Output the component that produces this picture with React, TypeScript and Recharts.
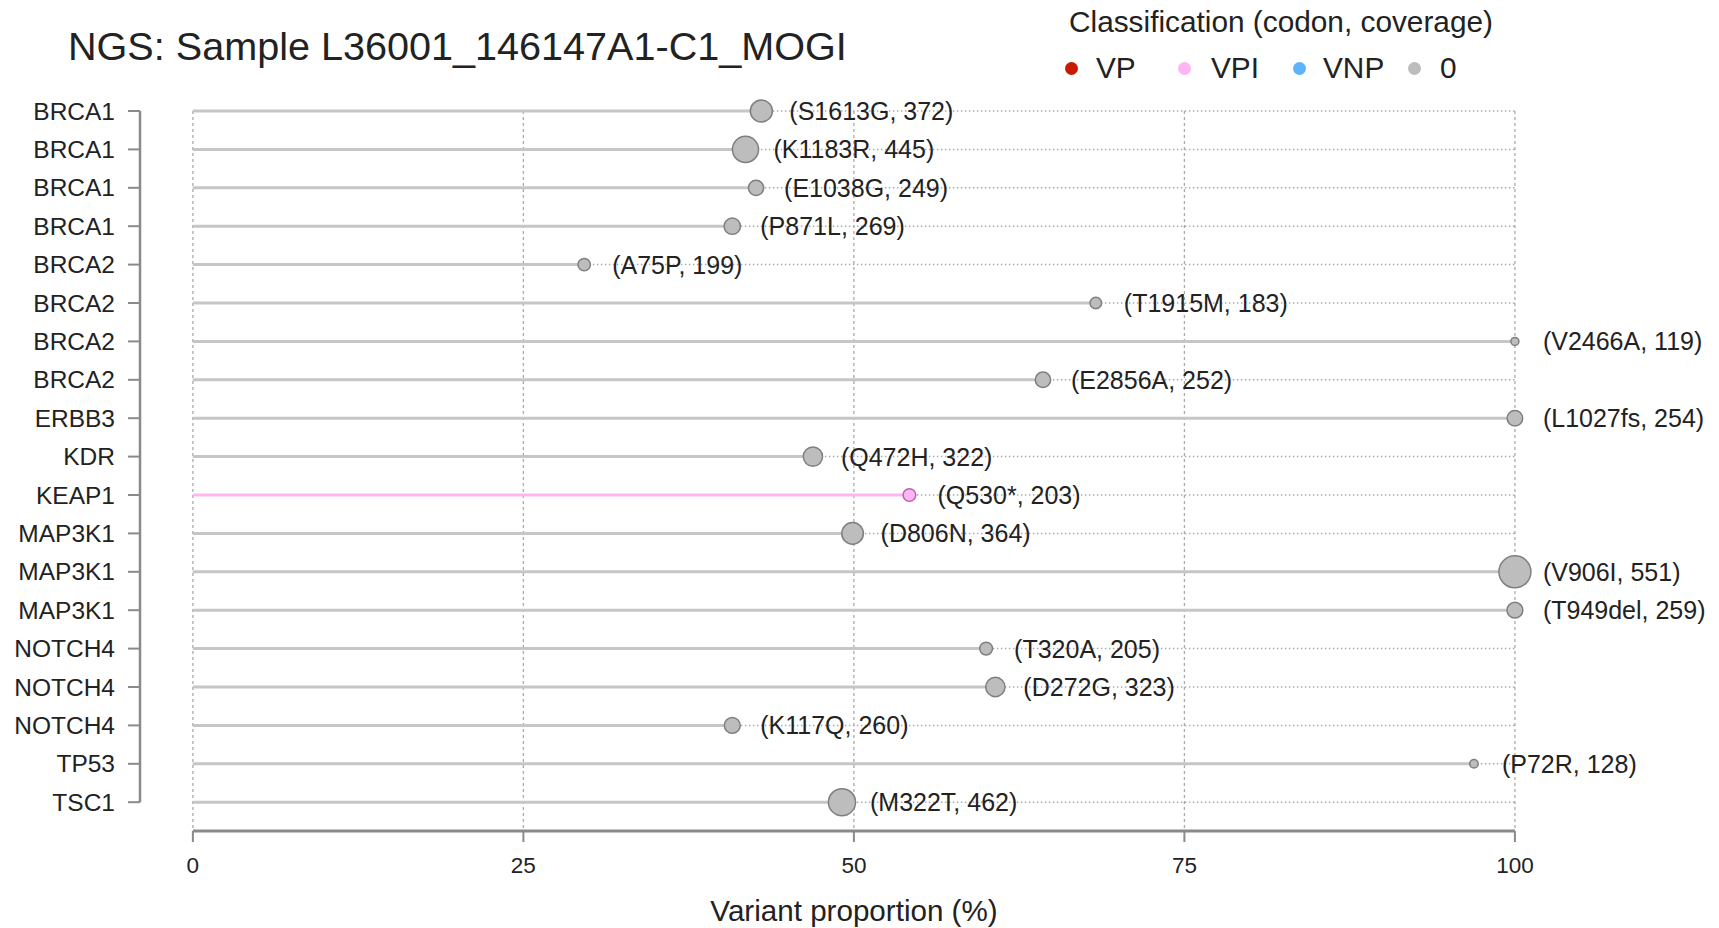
import React from "react";
import { ComposedChart, Scatter, XAxis, YAxis, ReferenceLine, Label } from "recharts";

const genes = [
    "BRCA1", "BRCA1", "BRCA1", "BRCA1", "BRCA2", "BRCA2", "BRCA2", "BRCA2", "ERBB3", "KDR",
    "KEAP1", "MAP3K1", "MAP3K1", "MAP3K1", "NOTCH4", "NOTCH4", "NOTCH4", "TP53", "TSC1"
];
const codons = [
    "S1613G", "K1183R", "E1038G", "P871L", "A75P", "T1915M", "V2466A", "E2856A", "L1027fs", "Q472H",
    "Q530*", "D806N", "V906I", "T949del", "T320A", "D272G", "K117Q", "P72R", "M322T"
];
const coverage = [372, 445, 249, 269, 199, 183, 119, 252, 254, 322, 203, 364, 551, 259, 205, 323, 260, 128, 462];
const proportion = [43.0, 41.8, 42.6, 40.8, 29.6, 68.3, 100, 64.3, 100, 46.9, 54.2, 49.9, 100, 100, 60.0, 60.7, 40.8, 96.9, 49.1];
const classification = ["0", "0", "0", "0", "0", "0", "0", "0", "0", "0", "VPI", "0", "0", "0", "0", "0", "0", "0", "0"];

const legendKeys = ["VP", "VPI", "VNP", "0"];
const legendColors = ["#c81a00", "#ffb5f3", "#5cb4ff", "#bdbdbd"];
const strokeColors = ["#8a1000", "#b866a8", "#2a7fcc", "#7f7f7f"];

const xTicks = [0, 25, 50, 75, 100];
const rowTicks = genes.map((_, i) => i);

const FONT = '"Liberation Sans", Arial, Helvetica, sans-serif';
const minCov = Math.min(...coverage);
const maxCov = Math.max(...coverage);
const radius = (cov: number) => 4 + ((cov - minCov) * 12) / (maxCov - minCov);
const colorOf = (cls: string) => legendColors[legendKeys.indexOf(cls)];
const strokeOf = (cls: string) => strokeColors[legendKeys.indexOf(cls)];

const points = genes.map((g, i) => ({
    row: i,
    gene: g,
    vaf: proportion[i],
    cov: coverage[i],
    codon: codons[i],
    cls: classification[i],
}));

const LAST_ROW = genes.length - 1;
const Y_MAX = 18.75;

// legend item positions (dot centre, text start)
const legendDotX = [1071, 1184, 1299, 1414];
const legendTextX = [1096, 1211, 1323, 1440];

const Lollipop = (props: any) => {
    const { cx, cy } = props;
    const p = props.payload || props;
    const r = radius(p.cov);
    return (
        <g>
            <circle cx={cx} cy={cy} r={r} fill={colorOf(p.cls)} stroke={strokeOf(p.cls)} strokeWidth={1.5} />
            <text x={cx + 28} y={cy} dominantBaseline="central" fontSize={25} fontFamily={FONT} fill="#222">
                {`(${p.codon}, ${p.cov})`}
            </text>
        </g>
    );
};

export default function App() {
    return (
        <div style={{ position: "absolute", left: 0, top: 0, width: 1719, height: 928, background: "#fff", fontFamily: FONT }}>
            <div style={{ position: "absolute", left: 68, top: 22, fontSize: 39.6, color: "#222", lineHeight: "48px", whiteSpace: "nowrap" }}>
                NGS: Sample L36001_146147A1-C1_MOGI
            </div>
            <div style={{ position: "absolute", left: 1069, top: 4, fontSize: 29.8, color: "#222", lineHeight: "36px", whiteSpace: "nowrap" }}>
                Classification (codon, coverage)
            </div>
            {legendKeys.map((k, i) => (
                <React.Fragment key={k}>
                    <span style={{ position: "absolute", left: legendDotX[i] - 6.5, top: 61.5, width: 13, height: 13, borderRadius: 7, background: legendColors[i] }} />
                    <span style={{ position: "absolute", left: legendTextX[i], top: 50, fontSize: 29.8, lineHeight: "36px", color: "#222" }}>{k}</span>
                </React.Fragment>
            ))}

            <ComposedChart width={1719} height={928} margin={{ top: 111, right: 19, bottom: 0, left: 0 }} style={{ position: "absolute", left: 0, top: 0, overflow: "visible" }}>
                <XAxis
                    type="number"
                    dataKey="vaf"
                    domain={[-4, 114]}
                    ticks={xTicks}
                    axisLine={false}
                    tickSize={11}
                    tickMargin={15}
                    height={97}
                    stroke="#8a8a8a"
                    tickLine={{ stroke: "#8a8a8a", strokeWidth: 2 }}
                    tick={{ fontSize: 22.5, fill: "#222", fontFamily: FONT }}
                >
                    <Label value="Variant proportion (%)" position="insideBottom" offset={7} dx={-66} style={{ fontSize: 29.6, fill: "#222", fontFamily: FONT }} />
                </XAxis>
                <YAxis
                    type="number"
                    dataKey="row"
                    domain={[0, Y_MAX]}
                    reversed
                    ticks={rowTicks}
                    interval={0}
                    width={140}
                    axisLine={false}
                    tickSize={12}
                    tickMargin={13}
                    tickLine={{ stroke: "#8a8a8a", strokeWidth: 2 }}
                    tickFormatter={(v: number) => genes[v] ?? ""}
                    tick={{ fontSize: 24.5, fill: "#222", fontFamily: FONT }}
                />

                {xTicks.map((t) => (
                    <ReferenceLine key={`v${t}`} segment={[{ x: t, y: 0 }, { x: t, y: Y_MAX }]} stroke="#aaaaaa" strokeWidth={1.3} strokeDasharray="3 3" />
                ))}
                {points.map((p) => (
                    <ReferenceLine key={`h${p.row}`} segment={[{ x: 0, y: p.row }, { x: 100, y: p.row }]} stroke="#aaaaaa" strokeWidth={1.5} strokeDasharray="1.5 2.5" />
                ))}
                {points.map((p) => (
                    <ReferenceLine key={`s${p.row}`} segment={[{ x: 0, y: p.row }, { x: p.vaf, y: p.row }]} stroke={p.cls === "VPI" ? "#ffb5f3" : "#c6c6c6"} strokeWidth={3} />
                ))}
                <ReferenceLine segment={[{ x: -4, y: 0 }, { x: -4, y: LAST_ROW }]} stroke="#8a8a8a" strokeWidth={2.5} ifOverflow="visible" />
                <ReferenceLine segment={[{ x: 0, y: Y_MAX }, { x: 100, y: Y_MAX }]} stroke="#8a8a8a" strokeWidth={3} ifOverflow="visible" />

                <Scatter data={points} dataKey="vaf" shape={Lollipop} isAnimationActive={false} />
            </ComposedChart>
        </div>
    );
}
